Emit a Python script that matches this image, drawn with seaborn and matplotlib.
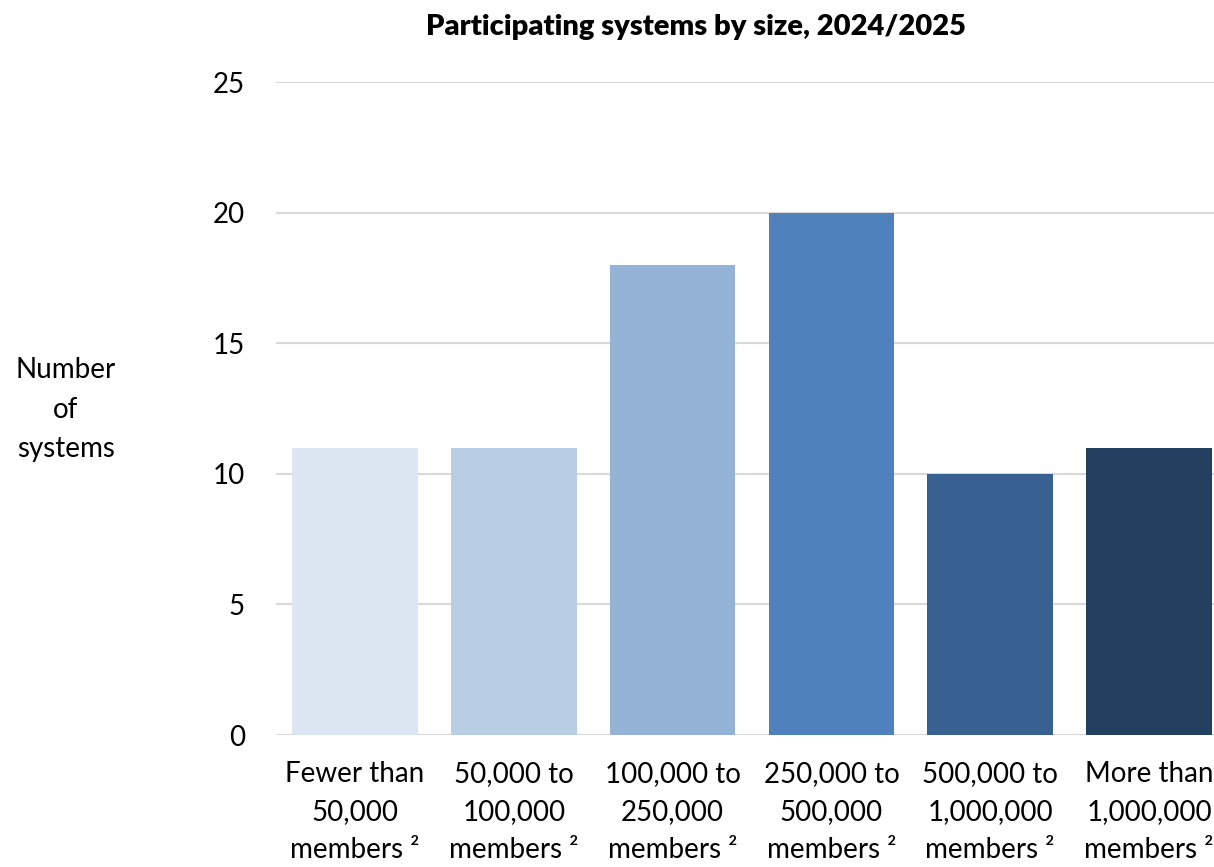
import matplotlib
matplotlib.use("Agg")
import matplotlib.pyplot as plt
import seaborn as sns
import pandas as pd

categories = [
    "Fewer than\n50,000\nmembers \u00b2",
    "50,000 to\n100,000\nmembers \u00b2",
    "100,000 to\n250,000\nmembers \u00b2",
    "250,000 to\n500,000\nmembers \u00b2",
    "500,000 to\n1,000,000\nmembers \u00b2",
    "More than\n1,000,000\nmembers \u00b2",
]
systems = [11, 11, 18, 20, 10, 11]
colors = ["#DCE6F2", "#B9CDE5", "#95B3D7", "#4F81BD", "#386192", "#244061"]
y_ticks = [0, 5, 10, 15, 20, 25]

sns.set_theme(style="white")
plt.rcParams["font.family"] = ["Lato", "DejaVu Sans"]
plt.rcParams["text.color"] = "black"

df = pd.DataFrame({"size": categories, "systems": systems})

fig = plt.figure(figsize=(12.14, 8.67), dpi=100)
ax = fig.add_axes([0.2270, 0.1522, 0.7849, 0.7532])

sns.barplot(data=df, x="size", y="systems", hue="size", palette=colors,
            legend=False, width=0.79, saturation=1, linewidth=0,
            ax=ax, zorder=3)

ax.set_ylim(0, 25)
ax.set_yticks(y_ticks)
ax.yaxis.grid(True, color="#D9D9D9", linewidth=1.5, zorder=0)
ax.xaxis.grid(False)
for s in ax.spines.values():
    s.set_visible(False)
ax.axhline(0, color="#D9D9D9", linewidth=1.8, zorder=2)

ax.tick_params(axis="y", length=0, pad=22, labelsize=20, labelcolor="black")
ax.tick_params(axis="x", length=0, pad=19, labelsize=20, labelcolor="black")
for lbl in ax.get_xticklabels():
    lbl.set_linespacing(1.56)

ax.set_xlabel("")
ax.set_ylabel("Number\nof\nsystems", rotation=0, fontsize=20, linespacing=1.64,
              ha="center", va="center", color="black")
ax.yaxis.set_label_coords(-0.22, 0.498)

fig.suptitle("Participating systems by size, 2024/2025", x=696 / 1214,
             y=1 - 27 / 867, va="center", fontsize=21, fontweight="heavy",
             color="black")

fig.savefig("out.png", dpi=100)
